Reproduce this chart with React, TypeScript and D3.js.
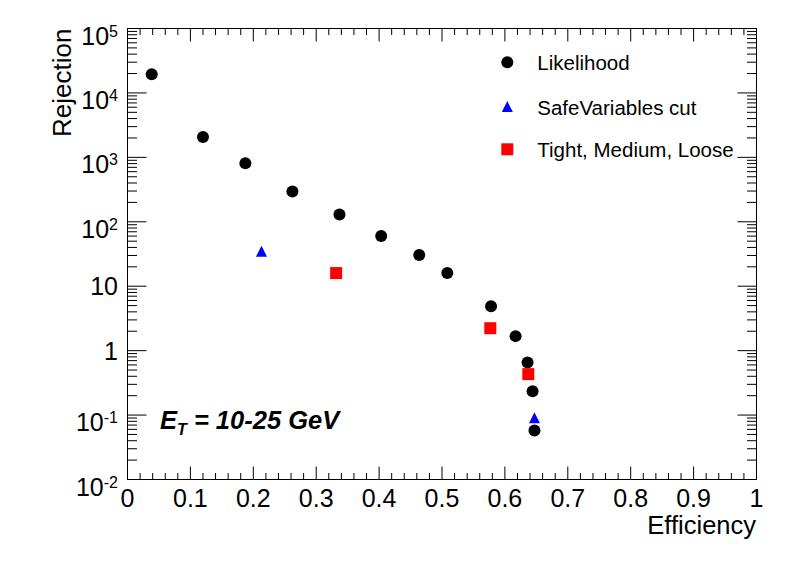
import React from "react";
import * as d3 from "d3";

const likeEff = [0.0385, 0.12, 0.1874, 0.2622, 0.337, 0.4033, 0.4638, 0.5084, 0.578, 0.617, 0.636, 0.644, 0.647];
const likeRej = [19500, 2065, 807, 296, 130, 60, 30.4, 16, 4.9, 1.68, 0.656, 0.235, 0.0577];
const safeEff = [0.213, 0.647];
const safeRej = [35, 0.0905];
const tmlEff = [0.3317, 0.5768, 0.6372];
const tmlRej = [16, 2.23, 0.432];

const xTicks = [0, 0.1, 0.2, 0.3, 0.4, 0.5, 0.6, 0.7, 0.8, 0.9, 1];
const xTickLabels = ["0", "0.1", "0.2", "0.3", "0.4", "0.5", "0.6", "0.7", "0.8", "0.9", "1"];
const yDecades = [-2, -1, 0, 1, 2, 3, 4, 5];
const legendLabels = ["Likelihood", "SafeVariables cut", "Tight, Medium, Loose"];

const W = 796, H = 572;
const L = 127.5, R = 756.5, T = 28.5, B = 479.5;
const FONT = "'Liberation Sans', Arial, Helvetica, sans-serif";

export default function App() {
  const x = d3.scaleLinear().domain([0, 1]).range([L, R]);
  const y = d3.scaleLog().domain([1e-2, 1e5]).range([B, T]);

  const xMinor: number[] = d3.range(0, 51).map((i) => i * 0.02);
  const yMinor: number[] = [];
  for (let d = -2; d < 5; d++) for (let m = 2; m <= 9; m++) yMinor.push(m * Math.pow(10, d));

  const tri = (cx: number, cy: number, s: number) =>
    `M${cx - s / 2},${cy + s / 2}L${cx + s / 2},${cy + s / 2}L${cx},${cy - s / 2}Z`;

  const legY = [62.3, 106.5, 149.3];
  const legX = 507.3;

  return (
    <svg width={W} height={H} style={{ position: "absolute", left: 0, top: 0, background: "#fff" }} fontFamily={FONT}>
      <rect x={0} y={0} width={W} height={H} fill="#fff" />
      {/* frame */}
      <rect x={L} y={T} width={R - L} height={B - T} fill="none" stroke="#000" strokeWidth={1} />
      {/* x ticks */}
      {xMinor.map((v, i) => {
        const major = i % 5 === 0;
        const len = major ? 13 : 6.5;
        return (
          <g key={"xm" + i}>
            <line x1={x(v)} x2={x(v)} y1={B} y2={B - len} stroke="#000" strokeWidth={1} />
            <line x1={x(v)} x2={x(v)} y1={T} y2={T + len} stroke="#000" strokeWidth={1} />
          </g>
        );
      })}
      {xTicks.map((v, i) => (
        <text key={"xl" + i} x={x(v)} y={507} fontSize={25} textAnchor="middle">
          {xTickLabels[i]}
        </text>
      ))}
      {/* y ticks */}
      {yDecades.map((d) => (
        <g key={"yd" + d}>
          <line x1={L} x2={L + 19} y1={y(Math.pow(10, d))} y2={y(Math.pow(10, d))} stroke="#000" strokeWidth={1} />
          <line x1={R} x2={R - 19} y1={y(Math.pow(10, d))} y2={y(Math.pow(10, d))} stroke="#000" strokeWidth={1} />
        </g>
      ))}
      {yMinor.map((v, i) => (
        <g key={"ym" + i}>
          <line x1={L} x2={L + 9.5} y1={y(v)} y2={y(v)} stroke="#000" strokeWidth={1} />
          <line x1={R} x2={R - 9.5} y1={y(v)} y2={y(v)} stroke="#000" strokeWidth={1} />
        </g>
      ))}
      {yDecades.map((d) => {
        const yy = y(Math.pow(10, d));
        if (d === 0 || d === 1) {
          return (
            <text key={"yl" + d} x={118} y={yy + 9} fontSize={25} textAnchor="end">
              {d === 0 ? "1" : "10"}
            </text>
          );
        }
        return (
          <text key={"yl" + d} x={118} y={yy + 16} fontSize={25} textAnchor="end">
            10
            <tspan fontSize={16} dy={-8}>{String(d)}</tspan>
          </text>
        );
      })}
      {/* axis titles */}
      <text x={756} y={534} fontSize={25.5} textAnchor="end">Efficiency</text>
      <text transform={`translate(71,${T}) rotate(-90)`} fontSize={26} textAnchor="end">Rejection</text>
      {/* E_T label */}
      <text x={160} y={429} fontSize={25.5} fontWeight="bold" fontStyle="italic">
        E<tspan fontSize={16} dy={6}>T</tspan>
        <tspan dy={-6}> = 10-25 GeV</tspan>
      </text>
      {/* data */}
      {likeEff.map((e, i) => (
        <circle key={"l" + i} cx={x(e)} cy={y(likeRej[i])} r={6} fill="#000" />
      ))}
      {safeEff.map((e, i) => (
        <path key={"s" + i} d={tri(x(e), y(safeRej[i]), 11)} fill="#0000ff" />
      ))}
      {tmlEff.map((e, i) => (
        <rect key={"t" + i} x={x(e) - 6} y={y(tmlRej[i]) - 6} width={12} height={12} fill="#ff0000" />
      ))}
      {/* legend */}
      <circle cx={legX} cy={legY[0]} r={6} fill="#000" />
      <path d={tri(legX, legY[1], 11)} fill="#0000ff" />
      <rect x={legX - 6} y={legY[2] - 6} width={12} height={12} fill="#ff0000" />
      {legendLabels.map((t, i) => (
        <text key={"lg" + i} x={537.3} y={legY[i] + 8} fontSize={20.5}>
          {t}
        </text>
      ))}
    </svg>
  );
}
